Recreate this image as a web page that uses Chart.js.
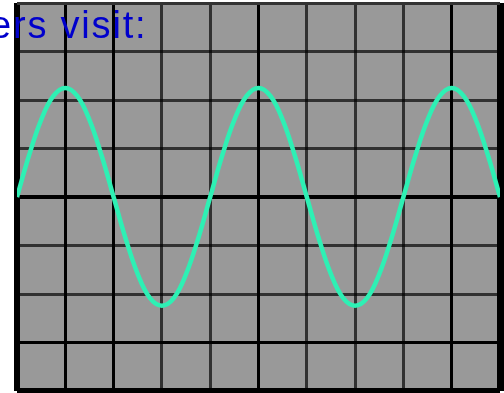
<!DOCTYPE html>
<html lang="en">
<head>
<meta charset="UTF-8">
<title>Oscilloscope</title>
<style>
  body { margin:0; padding:0; background:#fff; overflow:hidden; }
  #wrap { position:relative; width:504px; height:393px; }
  #caption { position:absolute; left:-10px; top:4px; font-family:'Liberation Sans',Arial,sans-serif; font-size:38px; color:#0000cc; white-space:nowrap; letter-spacing:1.8px; z-index:2; }
</style>
</head>
<body>
<div id="wrap">
  <canvas id="scope"></canvas>
  <div id="caption">ers visit:</div>
</div>

<script src="https://cdn.jsdelivr.net/npm/chart.js"></script>
<script>
// time axis in divisions, voltage in divisions
const timeDiv = [0,0.25,0.5,0.75,1,1.25,1.5,1.75,2,2.25,2.5,2.75,3,3.25,3.5,3.75,
                 4,4.25,4.5,4.75,5,5.25,5.5,5.75,6,6.25,6.5,6.75,7,7.25,7.5,7.75,
                 8,8.25,8.5,8.75,9,9.25,9.5,9.75,10];
const voltDiv = [0,0.86,1.59,2.08,2.25,2.08,1.59,0.86,0,-0.86,-1.59,-2.08,-2.24,-2.08,-1.59,-0.86,
                 0,0.86,1.59,2.08,2.25,2.08,1.59,0.86,0,-0.86,-1.59,-2.08,-2.24,-2.08,-1.59,-0.86,
                 0,0.86,1.59,2.08,2.25,2.08,1.59,0.86,0];
// which grid lines look solid on the screen (the rest are the dotted ones)
const solidX = [1,2,5,9];
const solidY = [0,-3];

const points = timeDiv.map((t,i)=>({x:t, y:voltDiv[i]}));

const screenBg = {
  id:'screenBg',
  beforeDraw(chart){
    const a=chart.chartArea, c=chart.ctx;
    c.save();
    c.fillStyle='#999999';
    c.fillRect(a.left,a.top,a.right-a.left,a.bottom-a.top);
    c.restore();
  }
};

function gridWidth(v, lo, hi){
  if(v===lo) return 6;
  if(v===hi) return 7;
  if(v===0) return 4;
  return 3;
}

new Chart(document.getElementById('scope'), {
  type:'line',
  data:{ datasets:[{
    data:points,
    borderColor:'#2ef0b4',
    borderWidth:4.5,
    pointRadius:0,
    tension:0.4,
    fill:false
  }]},
  options:{
    responsive:true,
    maintainAspectRatio:false,
    animation:false,
    layout:{ padding:{left:17,right:4,top:3,bottom:2} },
    plugins:{ legend:{display:false}, tooltip:{enabled:false} },
    scales:{
      x:{
        type:'linear', min:0, max:10,
        ticks:{display:false, stepSize:1},
        border:{display:false},
        grid:{
          drawTicks:false,
          lineWidth:c=>gridWidth(c.tick.value,0,10),
          color:c=>{
            const v=c.tick.value;
            if(v===0||v===10||solidX.includes(v)) return '#000';
            return 'rgba(0,0,0,0.68)';
          }
        }
      },
      y:{
        type:'linear', min:-4, max:4,
        ticks:{display:false, stepSize:1},
        border:{display:false},
        grid:{
          drawTicks:false,
          lineWidth:c=>{
            const v=c.tick.value;
            if(v===-4) return 6;
            if(v===4) return 3;
            if(v===0) return 4;
            return 3;
          },
          color:c=>{
            const v=c.tick.value;
            if(v===-4||solidY.includes(v)) return '#000';
            if(v===4) return '#333';
            return 'rgba(0,0,0,0.68)';
          }
        }
      }
    }
  },
  plugins:[screenBg]
});
</script>
</body>
</html>
